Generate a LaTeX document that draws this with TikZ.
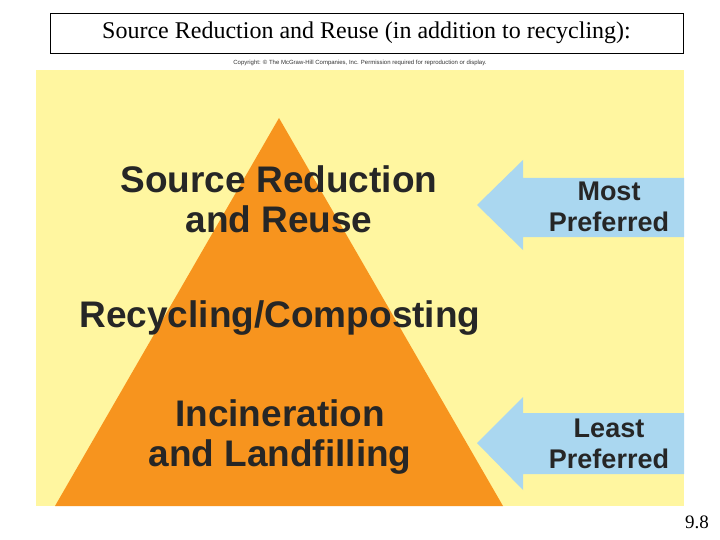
\documentclass[tikz,border=0pt]{standalone}
\usepackage{fontspec}
\setsansfont{Liberation Sans}
\setmainfont{Liberation Serif}
\begin{document}
\begin{tikzpicture}[x=1pt,y=-1pt,
  big/.style={font=\sffamily\bfseries\fontsize{37}{40}\selectfont, text=black!85, align=center, inner sep=0pt},
  mid/.style={font=\sffamily\bfseries\fontsize{27}{31}\selectfont, text=black!85, align=center, inner sep=0pt},
  arrowshape/.style={fill=cyan!25!blue!20!white, draw=none}]
\definecolor{panel}{RGB}{255,246,160}
\definecolor{tri}{RGB}{247,148,30}
\definecolor{arr}{RGB}{170,215,240}
\useasboundingbox (0,0) rectangle (720,540);
\fill[white] (0,0) rectangle (720,540);
\node[draw, thick, minimum width=633pt, minimum height=40pt, font=\rmfamily\fontsize{24}{28}\selectfont, inner sep=0pt] (title) at (366.5,33) {Source Reduction and Reuse (in addition to recycling):};
\fill[panel] (36,70) rectangle (684,506);
\node[font=\sffamily\fontsize{6}{7}\selectfont, text=black!80] (copy) at (360,63) {Copyright: © The McGraw-Hill Companies, Inc. Permission required for reproduction or display.};
\fill[tri] (279,118) -- (503,506) -- (55,506) -- cycle;
\fill[arr] (477,205) -- (523,160) -- (523,178) -- (684,178) -- (684,237) -- (523,237) -- (523,250) -- cycle;
\fill[arr] (477,443) -- (523,397) -- (523,413) -- (684,413) -- (684,474) -- (523,474) -- (523,490) -- cycle;
\node[big] (src) at (279,199) {Source Reduction\\and Reuse};
\node[big] (rec) at (280,318) {Recycling/Composting};
\node[big] (inc) at (280,437) {Incineration\\and Landfilling};
\node[mid] (most) at (609,207) {Most\\Preferred};
\node[mid] (least) at (609,444) {Least\\Preferred};
\node[font=\rmfamily\fontsize{19}{22}\selectfont] (num) at (697,522) {9.8};
\end{tikzpicture}
\end{document}
